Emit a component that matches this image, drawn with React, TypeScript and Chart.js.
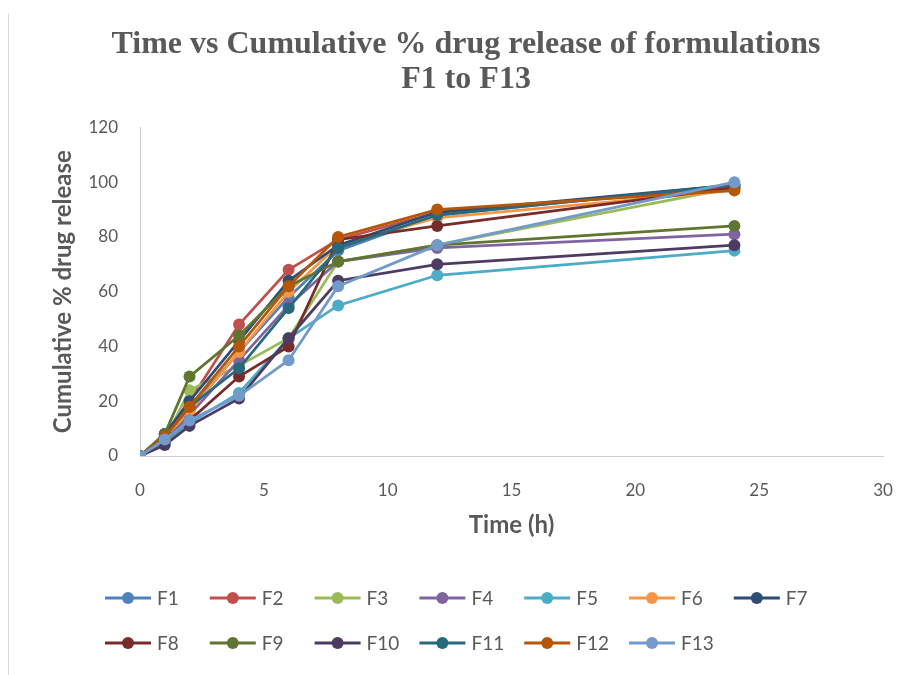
import React, { useEffect, useRef } from "react";
import { Chart, registerables } from "chart.js";

Chart.register(...registerables);

const times = [0, 1, 2, 4, 6, 8, 12, 24];
const seriesNames = ["F1", "F2", "F3", "F4", "F5", "F6", "F7", "F8", "F9", "F10", "F11", "F12", "F13"];
const seriesColors = [
  "#4F81BD", "#C0504D", "#9BBB59", "#8064A2", "#4BACC6", "#F79646", "#2C4D75",
  "#772C2A", "#5F7530", "#4D3B62", "#276A7C", "#B65708", "#729ACA",
];
const f1 = [0, 7, 17, 38, 58, 75, 88, 99];
const f2 = [0, 8, 20, 48, 68, 79, 89, 98];
const f3 = [0, 6, 24, 33, 43, 71, 77, 98];
const f4 = [0, 6, 15, 35, 55, 71, 76, 81];
const f5 = [0, 5, 12, 23, 43, 55, 66, 75];
const f6 = [0, 7, 16, 38, 60, 77, 87, 97];
const f7 = [0, 8, 20, 42, 64, 77, 89, 99];
const f8 = [0, 6, 13, 29, 40, 79, 84, 98];
const f9 = [0, 8, 29, 44, 62, 71, 77, 84];
const f10 = [0, 4, 11, 21, 43, 64, 70, 77];
const f11 = [0, 7, 18, 32, 54, 76, 88, 99];
const f12 = [0, 7, 18, 40, 62, 80, 90, 97];
const f13 = [0, 6, 13, 22, 35, 62, 77, 100];
const seriesValues = [f1, f2, f3, f4, f5, f6, f7, f8, f9, f10, f11, f12, f13];

const titleLines = ["Time vs Cumulative % drug release of formulations", "F1 to F13"];
const xTitle = "Time (h)";
const yTitle = "Cumulative % drug release";

const TEXT = "#595959";
const SANS = "Lato, 'Open Sans', sans-serif";

const legendPlugin = {
  id: "gridLegend",
  afterDraw(chart: any) {
    const ctx = chart.ctx;
    const ds = chart.data.datasets;
    const cols = 7;
    const x0 = 105;
    const colW = 104.8;
    const rowY = [598, 643];
    ctx.save();
    ds.forEach((d: any, i: number) => {
      const r = Math.floor(i / cols);
      const c = i % cols;
      const x = x0 + c * colW;
      const y = rowY[r];
      ctx.strokeStyle = d.borderColor;
      ctx.lineWidth = 3;
      ctx.beginPath();
      ctx.moveTo(x, y);
      ctx.lineTo(x + 46, y);
      ctx.stroke();
      ctx.fillStyle = d.borderColor;
      ctx.beginPath();
      ctx.arc(x + 23, y, 6, 0, Math.PI * 2);
      ctx.fill();
      ctx.fillStyle = TEXT;
      ctx.font = `19px ${SANS}`;
      ctx.textBaseline = "middle";
      ctx.textAlign = "left";
      ctx.fillText(d.label, x + 52, y + 1);
    });
    ctx.restore();
  },
  beforeDraw(chart: any) {
    const ctx = chart.ctx;
    ctx.save();
    ctx.fillStyle = "#ffffff";
    ctx.fillRect(0, 0, chart.width, chart.height);
    ctx.strokeStyle = "#d9d9d9";
    ctx.lineWidth = 1;
    ctx.beginPath();
    ctx.moveTo(8.5, 14);
    ctx.lineTo(8.5, chart.height);
    ctx.stroke();
    ctx.restore();
  },
};

export default function App() {
  const ref = useRef<HTMLCanvasElement | null>(null);
  useEffect(() => {
    if (!ref.current) return;
    const datasets = seriesNames.map((name, i) => ({
      label: name,
      data: times.map((t, j) => ({ x: t, y: seriesValues[i][j] })),
      borderColor: seriesColors[i],
      backgroundColor: seriesColors[i],
      pointBackgroundColor: seriesColors[i],
      pointBorderColor: seriesColors[i],
      pointRadius: 6,
      pointBorderWidth: 0,
      borderWidth: 2.75,
      tension: 0,
      order: seriesNames.length - i,
    }));
    const chart = new Chart(ref.current, {
      type: "line",
      data: { datasets },
      options: {
        animation: false,
        responsive: false,
        maintainAspectRatio: false,
        layout: { padding: { left: 49, right: 25, top: 0, bottom: 133 } },
        plugins: {
          legend: { display: false },
          tooltip: { enabled: false },
          title: {
            display: true,
            text: titleLines,
            color: TEXT,
            font: { family: "'Liberation Serif', 'Times New Roman', serif", size: 32, weight: "bold", lineHeight: 1.1 },
            padding: { top: 27, bottom: 30 },
          },
        },
        scales: {
          x: {
            type: "linear",
            min: 0,
            max: 30,
            ticks: { stepSize: 5, color: TEXT, font: { family: SANS, size: 17 }, padding: 24 },
            grid: { display: false, drawTicks: false },
            border: { display: true, color: "#d0d0d0", width: 1 },
            title: { display: true, text: xTitle, color: TEXT, font: { family: SANS, size: 24, weight: "bold" }, padding: { top: 10, bottom: 2 } },
            afterFit: (scale: any) => {
              scale.height = 86;
              scale.paddingRight = 0;
              scale.paddingLeft = 0;
            },
          },
          y: {
            min: 0,
            max: 120,
            ticks: { stepSize: 20, color: TEXT, font: { family: SANS, size: 17 }, padding: 22 },
            grid: { display: false, drawTicks: false },
            border: { display: true, color: "#c8c8c8", width: 1 },
            title: { display: true, text: yTitle, color: TEXT, font: { family: SANS, size: 24, weight: "bold" }, padding: { top: 0, bottom: 0 } },
            afterFit: (scale: any) => {
              scale.width = 91;
            },
          },
        },
      },
      plugins: [legendPlugin],
    });
    return () => chart.destroy();
  }, []);
  return (
    <div style={{ position: "absolute", left: 0, top: 0, width: 908, height: 675 }}>
      <canvas ref={ref} width={908} height={675} style={{ width: 908, height: 675, display: "block" }} />
    </div>
  );
}
